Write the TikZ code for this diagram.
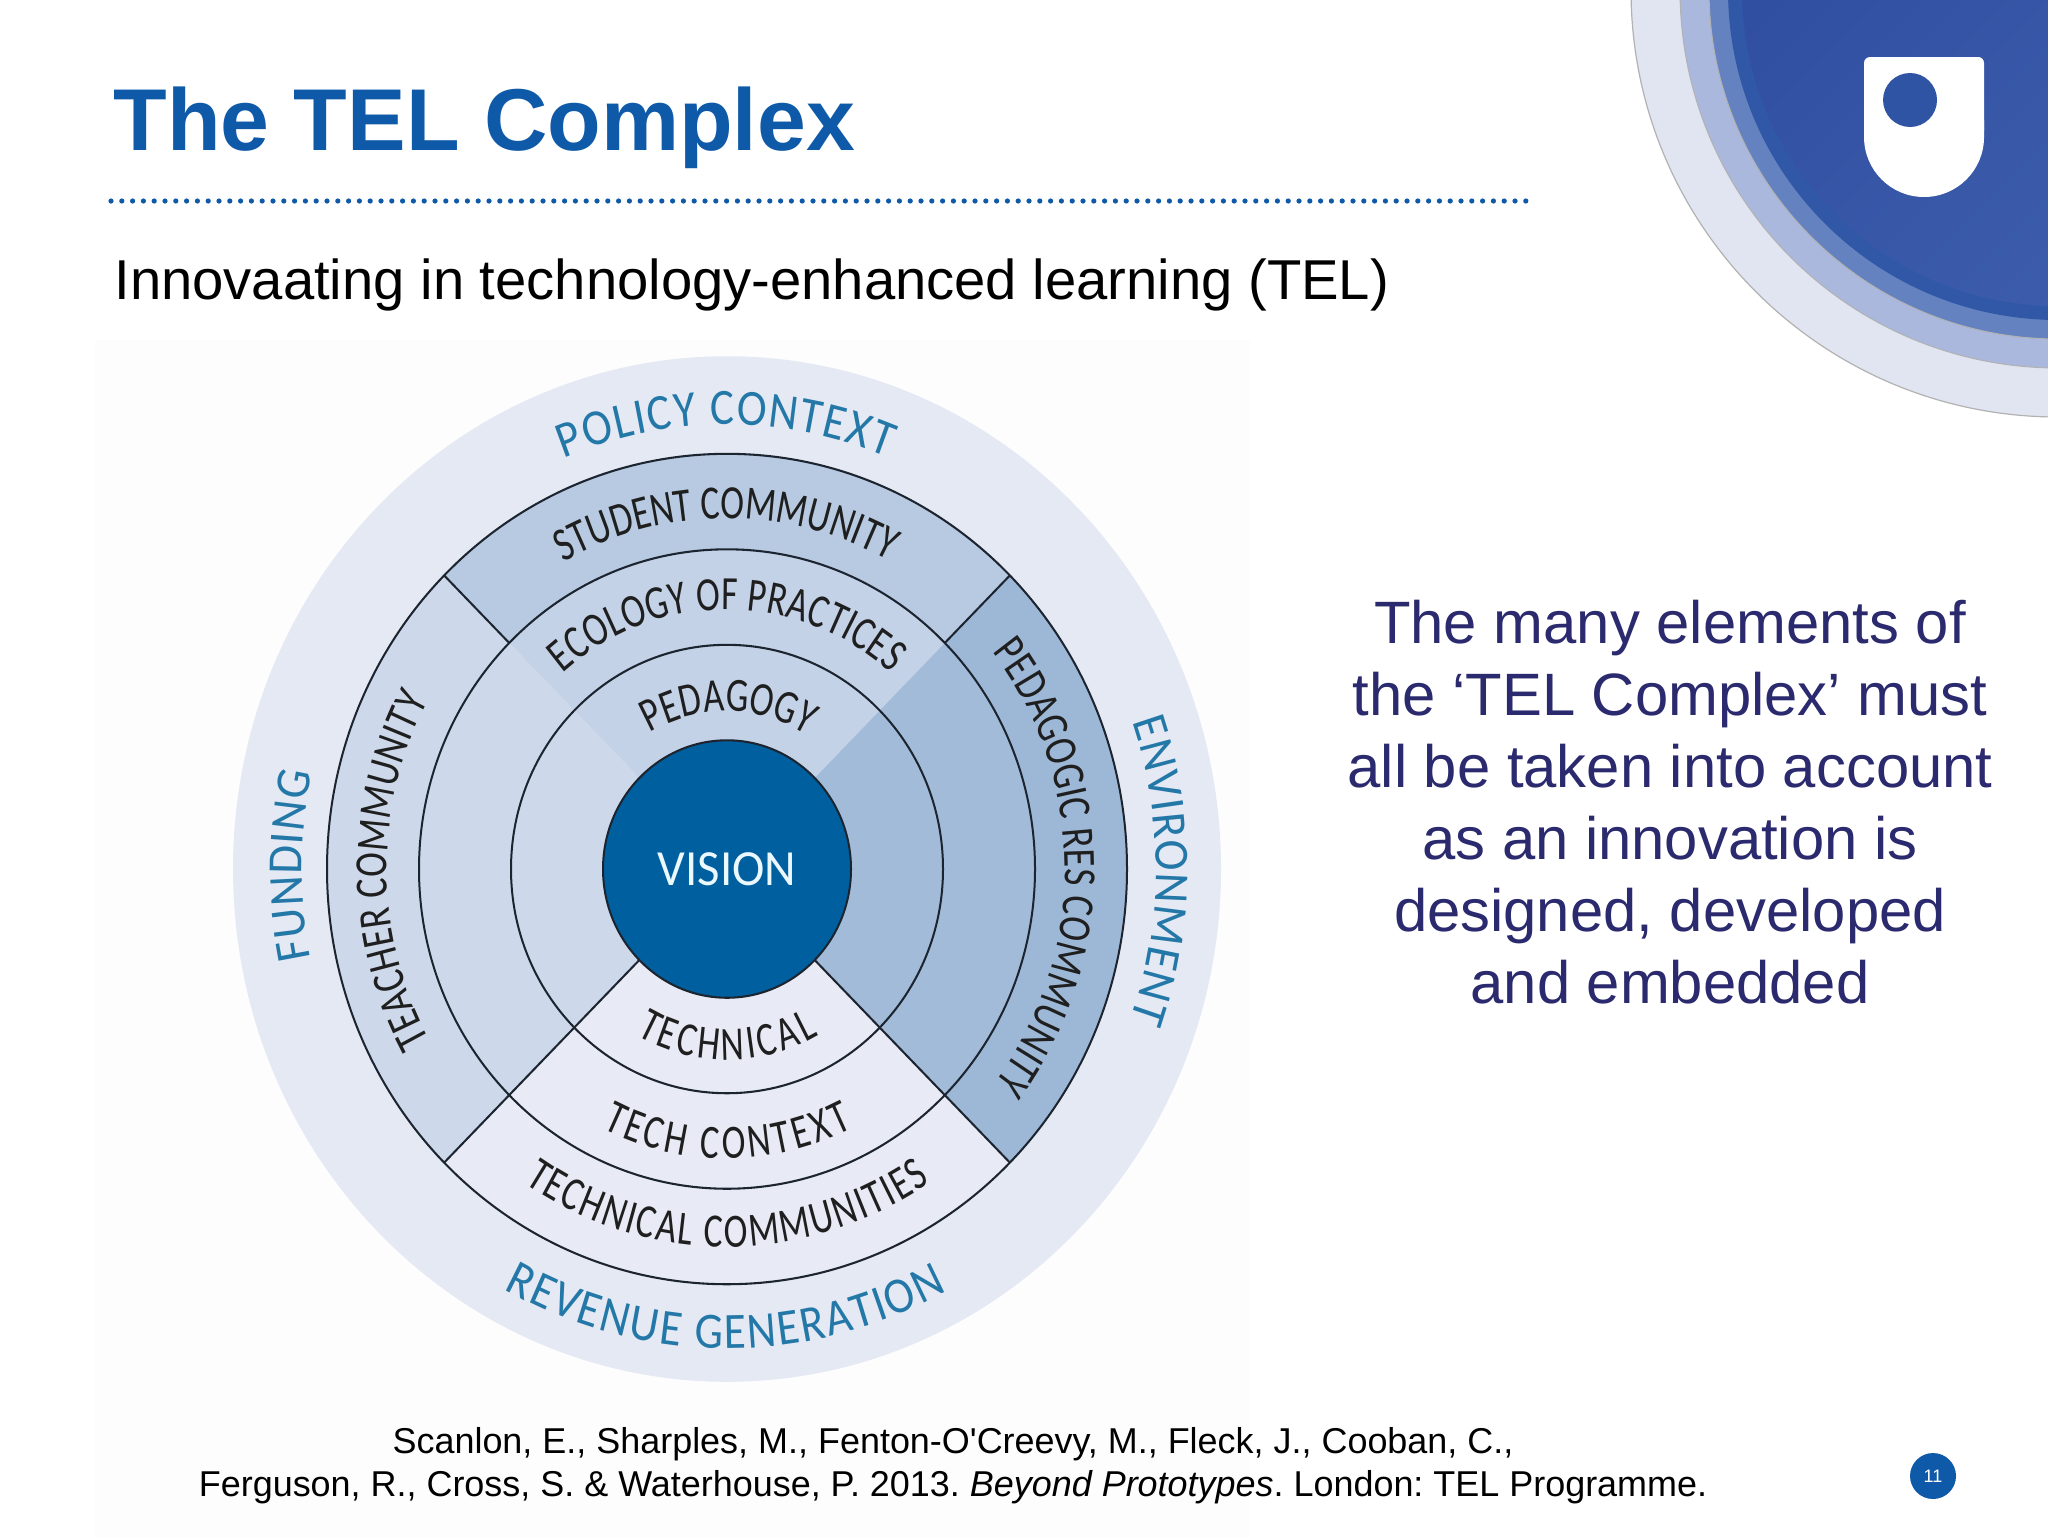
\documentclass[tikz,border=0pt]{standalone}
\usepackage{fontspec}
\setmainfont{Liberation Sans}
\newfontfamily\diagfont[FakeStretch=0.78]{Carlito}
\newfontfamily\diagfontb[FakeStretch=0.92]{Carlito}
\newfontfamily\diagfontc{Carlito}
\usetikzlibrary{decorations.text}
\definecolor{titleblue}{HTML}{0F5AA8}
\definecolor{purpletext}{HTML}{2B2A6E}
\definecolor{ringout}{HTML}{E5E9F4}
\definecolor{secTop}{HTML}{B7CAE1}
\definecolor{secTopIn}{HTML}{C3D2E7}
\definecolor{secLeft}{HTML}{CDD9EA}
\definecolor{secRight}{HTML}{A2BBD9}
\definecolor{secRightOut}{HTML}{9DB7D6}
\definecolor{secBot}{HTML}{E8EBF6}
\definecolor{visionblue}{HTML}{00609F}
\definecolor{labelblue}{HTML}{2478A8}
\definecolor{inkline}{HTML}{1C2430}
\definecolor{logoA}{HTML}{E1E5F2}
\definecolor{logoB}{HTML}{AAB8DE}
\definecolor{logoC}{HTML}{6482BF}
\definecolor{logoD}{HTML}{3158A6}
\definecolor{logoE}{HTML}{2E4B9E}
\definecolor{logoF}{HTML}{3F60AE}
\definecolor{imgbg}{HTML}{FDFDFE}
\newcommand{\ringsect}[5]{\fill[#5] ([shift={(#3:#2)}]centre) arc[start angle=#3,end angle=#4,radius=#2] -- ([shift={(#4:#1)}]centre) arc[start angle=#4,end angle=#3,radius=#1] -- cycle;}
\newcommand{\blackstyle}{\diagfont\fontsize{23}{23}\selectfont\color{black!88}}
\newcommand{\bluestyle}{\diagfontb\fontsize{24.5}{24.5}\selectfont\color{labelblue}}
\newcommand{\arctext}[5]{\path[decorate,decoration={text along path,text align={fit to path},text={|#4|#5}}] ([shift={(#1:#3)}]centre) arc[start angle=#1,end angle=#2,radius=#3];}
\tikzset{
  ringline/.style={draw=inkline,line width=1pt},
}
\frenchspacing
\begin{document}
\begin{tikzpicture}[x=0.5pt,y=0.5pt]
\useasboundingbox (0,0) rectangle (2048,-1537);
\fill[white] (0,0) rectangle (2048,-1537);
\fill[imgbg] (95,-340) rectangle (1250,-1537);
% logo
\begin{scope}
\clip (0,0) rectangle (2048,-1537);
\coordinate (lc) at (2058,10);
\fill[logoA,draw=black!30,line width=.6pt] (lc) circle[radius=427];
\fill[logoB,draw=black!30,line width=.5pt] (lc) circle[radius=378];
\fill[logoC,draw=black!30,line width=.5pt] (lc) circle[radius=349];
\fill[logoD] (lc) circle[radius=330];
\shade[left color=logoE,right color=logoF,shading angle=45] (lc) circle[radius=316];
\end{scope}
\fill[white,rounded corners=3pt] (1864,-57) -- (1984,-57) -- (1984,-137) -- (1864,-137) -- cycle;
\fill[white] (1864,-120) -- (1984,-120) -- (1984,-137) arc[start angle=0,end angle=-180,radius=60] -- cycle;
\fill[logoD!70!logoE] (1910,-100) circle[radius=27];
% heading
\node[anchor=base west,inner sep=0pt,text=titleblue] (title) at (113,-150) {\fontsize{43.9}{44}\selectfont\bfseries The TEL Complex};
\draw[titleblue,line width=2.6pt,line cap=round,dash pattern=on 0pt off 5.4pt] (111,-201) -- (1533,-201);
\node[anchor=base west,inner sep=0pt] (subtitle) at (114,-299) {\fontsize{28.1}{29}\selectfont Innovaating in technology-enhanced learning (TEL)};
% diagram, stretched vertically as in the reference
\begin{scope}[transform canvas={yscale=1.038}]
\coordinate (centre) at (727,-837.2);
\fill[ringout] (centre) circle[radius=494];
\ringsect{124}{400}{225}{315}{secBot}
\ringsect{124}{216}{45}{135}{secTopIn}
\ringsect{216}{308}{45}{135}{secTopIn}
\ringsect{308}{400}{45}{135}{secTop}
\ringsect{124}{308}{135}{225}{secLeft}
\ringsect{308}{400}{135}{225}{secLeft}
\ringsect{124}{308}{-45}{45}{secRight}
\ringsect{308}{400}{-45}{45}{secRightOut}
\draw[ringline] (centre) circle[radius=216];
\draw[ringline] (centre) circle[radius=308];
\draw[ringline] (centre) circle[radius=400];
\draw[ringline] ([shift={(135:308)}]centre) -- ([shift={(135:400)}]centre);
\draw[ringline] ([shift={(45:308)}]centre) -- ([shift={(45:400)}]centre);
\draw[ringline] ([shift={(225:124)}]centre) -- ([shift={(225:400)}]centre);
\draw[ringline] ([shift={(315:124)}]centre) -- ([shift={(315:400)}]centre);
\node[circle,fill=visionblue,draw=inkline,line width=1pt,minimum size=124pt,inner sep=0pt,text=white!92!cyan] (vision) at (centre) {\diagfontc\fontsize{24.4}{24.4}\selectfont VISION};
\arctext{112.4}{67.9}{428}{\bluestyle}{POLICY CONTEXT}
\arctext{241.1}{298.4}{462}{\bluestyle}{REVENUE GENERATION}
\arctext{191.7}{167.4}{425}{\bluestyle}{FUNDING}
\arctext{19.3}{-19.7}{429}{\bluestyle}{ENVIRONMENT}
\arctext{119}{61.5}{338}{\blackstyle}{STUDENT COMMUNITY}
\arctext{131}{49}{250}{\blackstyle}{ECOLOGY OF PRACTICES}
\arctext{120.5}{60.5}{152}{\blackstyle}{PEDAGOGY}
\arctext{240.4}{299.8}{184}{\blackstyle}{TECHNICAL}
\arctext{243.4}{296.8}{279}{\blackstyle}{TECH CONTEXT}
\arctext{236.2}{304}{364}{\blackstyle}{TECHNICAL COMMUNITIES}
\arctext{209}{151.5}{340}{\blackstyle}{TEACHER COMMUNITY}
\arctext{38.2}{-37.5}{338}{\blackstyle}{PEDAGOGIC RES COMMUNITY}
\end{scope}
% side text
\node[align=center,text=purpletext,font=\fontsize{29.9}{36}\selectfont] (sidetext) at (1670,-802) {The many elements of\\the ‘TEL Complex’ must\\all be taken into account\\as an innovation is\\designed, developed\\and embedded};
\node[align=center,font=\fontsize{17.97}{21.6}\selectfont] (cite) at (953,-1466) {Scanlon, E., Sharples, M., Fenton-O\textquotesingle Creevy, M., Fleck, J., Cooban, C.,\\Ferguson, R., Cross, S. \& Waterhouse, P. 2013. \textit{Beyond Prototypes}. London: TEL Programme.};
\node[circle,fill=titleblue,minimum size=23pt,inner sep=0pt,text=white] (page) at (1933,-1476) {\fontsize{9}{9}\selectfont 11};
\end{tikzpicture}
\end{document}
